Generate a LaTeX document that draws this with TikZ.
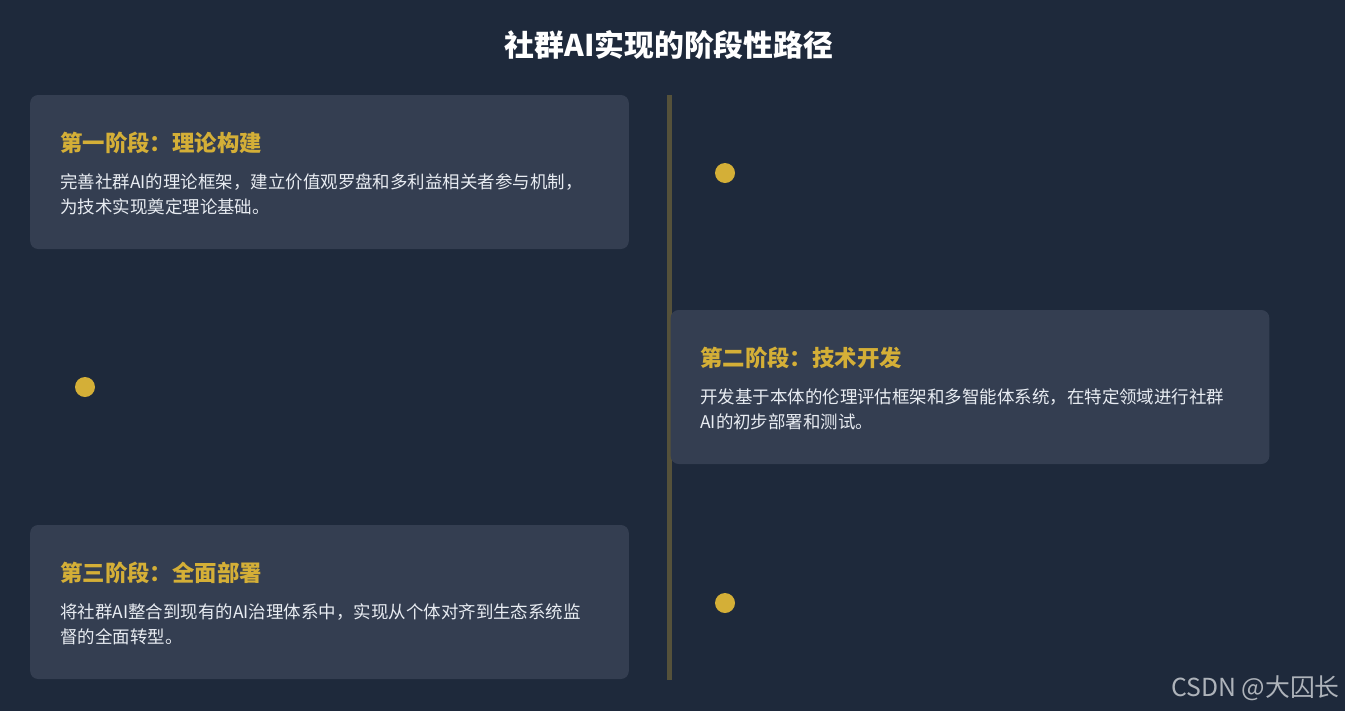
\documentclass[tikz,border=0pt]{standalone}
\usepackage{fontspec}
\setmainfont{Noto Sans CJK SC}
\usetikzlibrary{positioning}
\definecolor{bgcol}{HTML}{1E293B}
\definecolor{cardcol}{HTML}{343E51}
\definecolor{goldcol}{HTML}{D4AF37}
\definecolor{bodycol}{HTML}{E8ECF2}
\definecolor{markcol}{HTML}{AEB3BA}
\tikzset{
  card/.style={fill=cardcol, rounded corners=6pt, minimum width=449pt,
               minimum height=115.5pt, inner sep=0pt},
  phasetitle/.style={anchor=west, inner sep=0pt, text=goldcol,
               font=\fontsize{16.8}{20}\selectfont\bfseries},
  phasetext/.style={anchor=north west, inner sep=0pt, text=bodycol, align=left,
               font=\fontsize{13.1}{18.75}\selectfont},
  dot/.style={circle, fill=goldcol, minimum size=15pt, inner sep=0pt},
}
\begin{document}
\begin{tikzpicture}[x=0.75pt,y=-0.75pt]
  \fill[bgcol] (0,0) rectangle (1345,711);
  \useasboundingbox (0,0) rectangle (1345,711);

  \node[text=white, font=\fontsize{22.4}{26}\selectfont\bfseries] (title) at (669,45) {社群AI实现的阶段性路径};

  % timeline axis
  \coordinate (axtop) at (669,95);
  \coordinate (axbot) at (669,680);
  \draw[goldcol!30!bgcol, line width=3.75pt] (axtop) -- (axbot);

  % phase 1
  \node[card] (card1) at (329.5,172) {};
  \node[phasetitle] (head1) at (60,143) {第一阶段：理论构建};
  \node[phasetext] (body1) at (60,173) {完善社群AI的理论框架，建立价值观罗盘和多利益相关者参与机制，\\为技术实现奠定理论基础。};
  \node[dot] (dot1) at (725,173) {};

  % phase 2
  \node[card] (card2) at (970,387) {};
  \node[phasetitle] (head2) at (700,358) {第二阶段：技术开发};
  \node[phasetext] (body2) at (700,388) {开发基于本体的伦理评估框架和多智能体系统，在特定领域进行社群\\AI的初步部署和测试。};
  \node[dot] (dot2) at (85,387) {};

  % phase 3
  \node[card] (card3) at (329.5,602) {};
  \node[phasetitle] (head3) at (60,573) {第三阶段：全面部署};
  \node[phasetext] (body3) at (60,603) {将社群AI整合到现有的AI治理体系中，实现从个体对齐到生态系统监\\督的全面转型。};
  \node[dot] (dot3) at (725,603) {};

  \node[anchor=east, inner sep=0pt, text=markcol, font=\fontsize{18.6}{22}\selectfont] (mark) at (1340,688) {CSDN @大囚长};
\end{tikzpicture}
\end{document}
